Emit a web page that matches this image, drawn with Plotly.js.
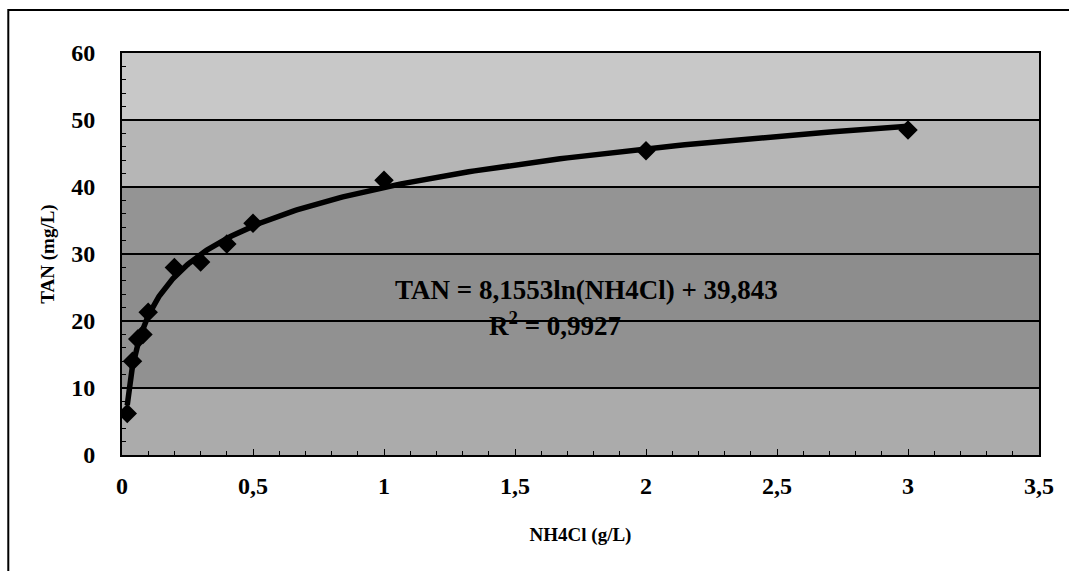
<!DOCTYPE html>
<html>
<head>
<meta charset="utf-8">
<script src="https://cdn.plot.ly/plotly-3.0.1.min.js"></script>
<style>html,body{margin:0;padding:0;background:#fff;}#chart{width:1069px;height:571px;}</style>
</head>
<body>
<div id="chart"></div>
<script>
// Data
const nh4cl = [0.02, 0.04, 0.06, 0.08, 0.1, 0.2, 0.3, 0.4, 0.5, 1, 2, 3];
const tan   = [6.2, 14.0, 17.3, 18.0, 21.3, 28.0, 28.8, 31.5, 34.6, 41.0, 45.4, 48.5];
const xTickVals = [0, 0.5, 1, 1.5, 2, 2.5, 3, 3.5];
const xTickText = ["0", "0,5", "1", "1,5", "2", "2,5", "3", "3,5"];
const yTickVals = [0, 10, 20, 30, 40, 50, 60];
const yTickText = ["0", "10", "20", "30", "40", "50", "60"];
const eqText = "TAN = 8,1553ln(NH4Cl) + 39,843";
const r2Text = "R<sup>2</sup> = 0,9927";
const bandGrays = ["#ababab", "#919191", "#8d8d8d", "#949494", "#b6b6b6", "#c8c8c8"];

// Logarithmic least-squares trendline fitted to the data (as the spreadsheet does)
const lx = nh4cl.map(Math.log);
const n = lx.length;
const mx = lx.reduce((a, b) => a + b, 0) / n;
const my = tan.reduce((a, b) => a + b, 0) / n;
let sxy = 0, sxx = 0;
for (let i = 0; i < n; i++) { sxy += (lx[i] - mx) * (tan[i] - my); sxx += (lx[i] - mx) ** 2; }
const slope = sxy / sxx, icpt = my - slope * mx;
const tx = [], ty = [];
const xmin = Math.min(...nh4cl), xmax = Math.max(...nh4cl);
for (let k = 0; k <= 300; k++) {
  const x = Math.exp(Math.log(xmin) + (Math.log(xmax) - Math.log(xmin)) * k / 300);
  tx.push(x); ty.push(slope * Math.log(x) + icpt);
}

const font = "Liberation Serif, Times New Roman, serif";
const shapes = bandGrays.map((c, i) => ({
  type: "rect", xref: "paper", yref: "y", x0: 0, x1: 1, y0: i * 10, y1: (i + 1) * 10,
  fillcolor: c, line: {width: 0}, layer: "below"
}));
shapes.push({
  type: "path", xref: "paper", yref: "paper",
  path: "M -0.124,-0.3 L -0.124,1.107 L 1.05,1.107",
  line: {color: "#000", width: 2}
});

const traces = [
  {x: tx, y: ty, type: "scatter", mode: "lines", line: {color: "#000", width: 5.5}, hoverinfo: "skip", showlegend: false},
  {x: nh4cl, y: tan, type: "scatter", mode: "markers",
   marker: {symbol: "diamond", size: 15, color: "#000"}, showlegend: false}
];

const layout = {
  width: 1069, height: 571,
  margin: {l: 122, r: 30, t: 53, b: 116},
  paper_bgcolor: "#fff", plot_bgcolor: "#9c9c9c",
  font: {family: font, color: "#000"},
  shapes: shapes,
  xaxis: {
    range: [0, 3.5], tickvals: xTickVals, ticktext: xTickText,
    tickfont: {family: font, size: 24, color: "#000", weight: "bold"},
    showgrid: false, zeroline: false,
    showline: true, linecolor: "#000", linewidth: 2, mirror: true,
    ticks: "inside", ticklen: 6, tickcolor: "#000",
    minor: {dtick: 0.1, ticks: "inside", ticklen: 4, tickcolor: "#000", showgrid: false},
    ticklabelstandoff: 8,
    title: {text: "<b>NH4Cl (g/L)</b>", font: {family: font, size: 19, color: "#000"}, standoff: 30}
  },
  yaxis: {
    range: [0, 60], tickvals: yTickVals, ticktext: yTickText,
    tickfont: {family: font, size: 24, color: "#000", weight: "bold"},
    showgrid: true, gridcolor: "#000", gridwidth: 1.2, zeroline: false,
    showline: true, linecolor: "#000", linewidth: 2, mirror: true,
    ticks: "inside", ticklen: 6, tickcolor: "#000",
    minor: {dtick: 2, ticks: "inside", ticklen: 4, tickcolor: "#000", showgrid: false},
    ticklabelstandoff: 20,
    title: {text: "<b>TAN (mg/L)</b>", font: {family: font, size: 19, color: "#000"}, standoff: 12}
  },
  annotations: [
    {x: 0.507, y: 0.41, xref: "paper", yref: "paper", text: "<b>" + eqText + "</b>", showarrow: false,
     font: {family: font, size: 27, color: "#000"}, xanchor: "center", yanchor: "middle"},
    {x: 0.472, y: 0.325, xref: "paper", yref: "paper", text: "<b>" + r2Text + "</b>", showarrow: false,
     font: {family: font, size: 27, color: "#000"}, xanchor: "center", yanchor: "middle"}
  ]
};

Plotly.newPlot("chart", traces, layout, {displayModeBar: false, staticPlot: true});
</script>
</body>
</html>
